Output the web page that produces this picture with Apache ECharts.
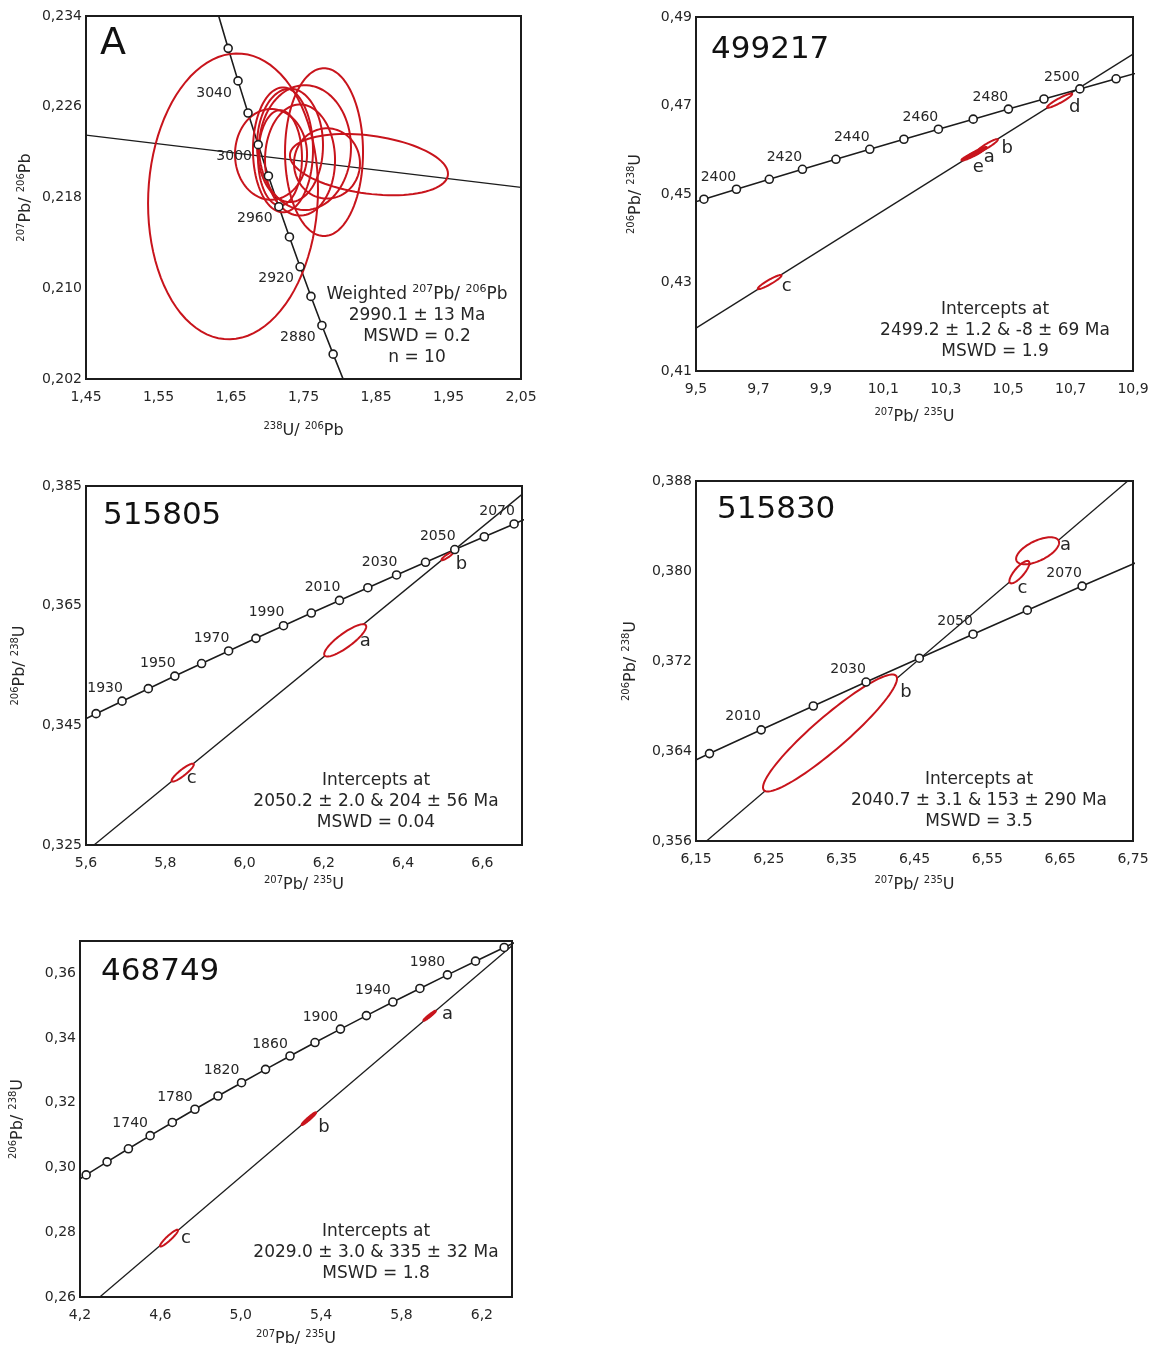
<!DOCTYPE html>
<html>
<head>
<meta charset="utf-8">
<script src="https://cdn.jsdelivr.net/npm/echarts@6.0.0/dist/echarts.min.js"></script>
<style>
  html, body { margin: 0; padding: 0; background: #fff; }
  #chart { width: 1156px; height: 1351px; }
</style>
</head>
<body>
<div id="chart"></div>
<script>
// ================= DATA =================
// Panel A (Tera-Wasserburg): concordia ages (Ma) and coordinates; first/last entries run off the axes
const aAges  = [3080, 3060, 3040, 3020, 3000, 2980, 2960, 2940, 2920, 2900, 2880, 2860, 2840];
const aConcX = [1.6327, 1.6461, 1.6597, 1.6735, 1.6875, 1.7016, 1.7160, 1.7306, 1.7453, 1.7603, 1.7754, 1.7909, 1.8065];
const aConcY = [0.23406, 0.23115, 0.22828, 0.22545, 0.22266, 0.21990, 0.21719, 0.21452, 0.21189, 0.20928, 0.20672, 0.20419, 0.20170];
const aLabelAges = [3040, 3000, 2960, 2920, 2880];
const aRefX = [1.45, 2.05];
const aRefY = [0.2235, 0.2189];
// ellipses: [centerX, centerY, halfWidthX, halfWidthY, correlation]
const aEllipses = [
  [1.6528, 0.2181, 0.1172, 0.0126, 0.05],
  [1.7783, 0.2220, 0.0538, 0.0074, 0.00],
  [1.8403, 0.2209, 0.1090, 0.0027, -0.30],
  [1.7314, 0.2226, 0.0455, 0.0050, 0.00],
  [1.7052, 0.2218, 0.0497, 0.0040, 0.00],
  [1.7217, 0.2222, 0.0414, 0.0055, 0.00],
  [1.7824, 0.2210, 0.0455, 0.0031, 0.00],
  [1.7452, 0.2213, 0.0483, 0.0049, 0.00],
  [1.7176, 0.2215, 0.0303, 0.0042, 0.00],
  [1.7521, 0.2224, 0.0634, 0.0055, 0.00]
];
const aXTicks = [1.45, 1.55, 1.65, 1.75, 1.85, 1.95, 2.05];
const aYTicks = [0.202, 0.210, 0.218, 0.226, 0.234];

// Panel 499217 (Wetherill)
const bAges  = [2380, 2390, 2400, 2410, 2420, 2430, 2440, 2450, 2460, 2470, 2480, 2490, 2500, 2510, 2520];
const bConcX = [9.4223, 9.5254, 9.6296, 9.7348, 9.8410, 9.9483, 10.0567, 10.1661, 10.2766, 10.3882, 10.5009, 10.6148, 10.7297, 10.8458, 10.9630];
const bConcY = [0.44657, 0.44882, 0.45107, 0.45332, 0.45558, 0.45784, 0.46010, 0.46237, 0.46464, 0.46691, 0.46919, 0.47147, 0.47375, 0.47604, 0.47833];
const bLabelAges = [2400, 2420, 2440, 2460, 2480, 2500];
const bDiscX = [9.5, 10.9];
const bDiscY = [0.4197, 0.4816];
const bNames = ['e', 'a', 'b', 'd', 'c'];
const bEllipses = [
  [10.385, 0.4588, 0.034, 0.0012, 0.95],
  [10.401, 0.4595, 0.030, 0.0011, 0.95],
  [10.433, 0.4609, 0.034, 0.0015, 0.93],
  [10.665, 0.4711, 0.040, 0.0016, 0.93],
  [9.736, 0.4301, 0.038, 0.0016, 0.93]
];
const bFilled = [true, true, false, false, false];
const bXTicks = [9.5, 9.7, 9.9, 10.1, 10.3, 10.5, 10.7, 10.9];
const bYTicks = [0.41, 0.43, 0.45, 0.47, 0.49];

// Panel 515805
const cAges  = [1910, 1920, 1930, 1940, 1950, 1960, 1970, 1980, 1990, 2000, 2010, 2020, 2030, 2040, 2050, 2060, 2070, 2080];
const cConcX = [5.5605, 5.6254, 5.6910, 5.7572, 5.8241, 5.8916, 5.9598, 6.0287, 6.0983, 6.1685, 6.2395, 6.3111, 6.3835, 6.4566, 6.5304, 6.6049, 6.6801, 6.7562];
const cConcY = [0.34486, 0.34695, 0.34904, 0.35113, 0.35323, 0.35533, 0.35743, 0.35954, 0.36165, 0.36377, 0.36588, 0.36800, 0.37013, 0.37225, 0.37438, 0.37652, 0.37866, 0.38080];
const cLabelAges = [1930, 1950, 1970, 1990, 2010, 2030, 2050, 2070];
const cDiscX = [5.6, 6.7];
const cDiscY = [0.3239, 0.3836];
const cNames = ['a', 'b', 'c'];
const cEllipses = [
  [6.254, 0.3592, 0.053, 0.0027, 0.85],
  [6.512, 0.3733, 0.015, 0.0007, 0.90],
  [5.844, 0.3371, 0.028, 0.0015, 0.90]
];
const cFilled = [false, false, false];
const cXTicks = [5.6, 5.8, 6.0, 6.2, 6.4, 6.6];
const cYTicks = [0.325, 0.345, 0.365, 0.385];

// Panel 515830
const dAges  = [1990, 2000, 2010, 2020, 2030, 2040, 2050, 2060, 2070, 2080];
const dConcX = [6.0983, 6.1685, 6.2395, 6.3111, 6.3835, 6.4566, 6.5304, 6.6049, 6.6801, 6.7562];
const dConcY = [0.36165, 0.36377, 0.36588, 0.36800, 0.37013, 0.37225, 0.37438, 0.37652, 0.37866, 0.38080];
const dLabelAges = [2010, 2030, 2050, 2070];
const dDiscX = [6.15, 6.75];
const dDiscY = [0.3552, 0.3884];
const dNames = ['a', 'c', 'b'];
const dEllipses = [
  [6.619, 0.3818, 0.0295, 0.0012, 0.60],
  [6.594, 0.3799, 0.0137, 0.0010, 0.80],
  [6.334, 0.3656, 0.092, 0.0052, 0.93]
];
const dFilled = [false, false, false];
const dXTicks = [6.15, 6.25, 6.35, 6.45, 6.55, 6.65, 6.75];
const dYTicks = [0.356, 0.364, 0.372, 0.380, 0.388];

// Panel 468749
const eAges  = [1660, 1680, 1700, 1720, 1740, 1760, 1780, 1800, 1820, 1840, 1860, 1880, 1900, 1920, 1940, 1960, 1980, 2000, 2020, 2040];
const eConcX = [4.1287, 4.2307, 4.3348, 4.4409, 4.5491, 4.6595, 4.7721, 4.8869, 5.0040, 5.1234, 5.2452, 5.3695, 5.4962, 5.6254, 5.7572, 5.8916, 6.0287, 6.1685, 6.3111, 6.4566];
const eConcY = [0.29370, 0.29772, 0.30176, 0.30580, 0.30986, 0.31393, 0.31801, 0.32211, 0.32621, 0.33034, 0.33447, 0.33862, 0.34278, 0.34695, 0.35113, 0.35533, 0.35954, 0.36377, 0.36800, 0.37225];
const eLabelAges = [1740, 1780, 1820, 1860, 1900, 1940, 1980];
const eDiscX = [4.2, 6.35];
const eDiscY = [0.2548, 0.3685];
const eNames = ['a', 'b', 'c'];
const eEllipses = [
  [5.940, 0.3469, 0.030, 0.0015, 0.97],
  [5.339, 0.3151, 0.035, 0.0019, 0.97],
  [4.643, 0.2782, 0.045, 0.0026, 0.93]
];
const eFilled = [true, true, false];
const eXTicks = [4.2, 4.6, 5.0, 5.4, 5.8, 6.2];
const eYTicks = [0.26, 0.28, 0.30, 0.32, 0.34, 0.36];

// ================= STYLE / LAYOUT =================
const RED = '#c8141c';
const INK = '#1c1c1c';
const TXT = '#262626';
const FONT = "'DejaVu Sans', 'Noto Sans', sans-serif";

const nameRich = {
  n: { fontSize: 16, fontFamily: FONT, color: TXT, lineHeight: 20 },
  s: { fontSize: 10, fontFamily: FONT, color: TXT, verticalAlign: 'top', lineHeight: 11 }
};
const TW_X = '{s|238}{n|U/ }{s|206}{n|Pb}';
const TW_Y = '{s|207}{n|Pb/ }{s|206}{n|Pb}';
const WE_X = '{s|207}{n|Pb/ }{s|235}{n|U}';
const WE_Y = '{s|206}{n|Pb/ }{s|238}{n|U}';

function zip(xs, ys) { return xs.map((x, i) => [x, ys[i]]); }
function fmt(d) { return v => Number(v).toFixed(d).replace('.', ','); }

const panels = [
  { grid: { left: 86, top: 16, width: 435, height: 363 }, xr: [1.45, 2.05], yr: [0.202, 0.234],
    xt: aXTicks, yt: aYTicks, xd: 2, yd: 3, xName: TW_X, yName: TW_Y, xGap: 42, yGap: 50,
    ages: aAges, cx: aConcX, cy: aConcY, lab: aLabelAges, labOff: [-24, 12],
    lx: aRefX, ly: aRefY, ells: aEllipses, names: null, filled: null, opaque: false, offs: null },
  { grid: { left: 696, top: 17, width: 437, height: 354 }, xr: [9.5, 10.9], yr: [0.41, 0.49],
    xt: bXTicks, yt: bYTicks, xd: 1, yd: 2, xName: WE_X, yName: WE_Y, xGap: 36, yGap: 50,
    ages: bAges, cx: bConcX, cy: bConcY, lab: bLabelAges, labOff: [-18, -12],
    lx: bDiscX, ly: bDiscY, ells: bEllipses, names: bNames, filled: bFilled, opaque: true,
    offs: { e: [6, 12], a: [12, 5], b: [20, 3], d: [15, 7], c: [17, 4] } },
  { grid: { left: 86, top: 486, width: 436, height: 359 }, xr: [5.6, 6.7], yr: [0.325, 0.385],
    xt: cXTicks, yt: cYTicks, xd: 1, yd: 3, xName: WE_X, yName: WE_Y, xGap: 30, yGap: 56,
    ages: cAges, cx: cConcX, cy: cConcY, lab: cLabelAges, labOff: [-17, -13],
    lx: cDiscX, ly: cDiscY, ells: cEllipses, names: cNames, filled: cFilled, opaque: true,
    offs: { a: [20, 1], b: [14, 8], c: [9, 6] } },
  { grid: { left: 696, top: 481, width: 437, height: 360 }, xr: [6.15, 6.75], yr: [0.356, 0.388],
    xt: dXTicks, yt: dYTicks, xd: 2, yd: 3, xName: WE_X, yName: WE_Y, xGap: 34, yGap: 55,
    ages: dAges, cx: dConcX, cy: dConcY, lab: dLabelAges, labOff: [-18, -13],
    lx: dDiscX, ly: dDiscY, ells: dEllipses, names: dNames, filled: dFilled, opaque: true,
    offs: { a: [28, -5], c: [3, 16], b: [76, -41] } },
  { grid: { left: 80, top: 941, width: 432, height: 356 }, xr: [4.2, 6.35], yr: [0.26, 0.37],
    xt: eXTicks, yt: eYTicks, xd: 1, yd: 2, xName: WE_X, yName: WE_Y, xGap: 32, yGap: 52,
    ages: eAges, cx: eConcX, cy: eConcY, lab: eLabelAges, labOff: [-20, -12],
    lx: eDiscX, ly: eDiscY, ells: eEllipses, names: eNames, filled: eFilled, opaque: true,
    offs: { a: [18, -1], b: [15, 9], c: [17, 0] } }
];

const grids = [], xAxes = [], yAxes = [], series = [];

function ellipsePoints(api, e) {
  const [cx, cy, sx, sy, rho] = e;
  const s = Math.sqrt(1 - rho * rho);
  const pts = [];
  for (let k = 0; k <= 90; k++) {
    const t = (k / 90) * Math.PI * 2;
    const x = cx + sx * Math.cos(t);
    const y = cy + sy * (rho * Math.cos(t) + s * Math.sin(t));
    pts.push(api.coord([x, y]));
  }
  return pts;
}

panels.forEach((p, gi) => {
  grids.push(Object.assign({ show: true, borderColor: INK, borderWidth: 2, backgroundColor: 'transparent', containLabel: false }, p.grid));
  xAxes.push({
    gridIndex: gi, type: 'value', min: p.xr[0], max: p.xr[1],
    axisLine: { show: false }, axisTick: { show: false }, splitLine: { show: false },
    axisLabel: { customValues: p.xt, formatter: fmt(p.xd), margin: 11, fontSize: 14, fontFamily: FONT, color: TXT },
    name: p.xName, nameLocation: 'middle', nameGap: p.xGap, nameTextStyle: { rich: nameRich }
  });
  yAxes.push({
    gridIndex: gi, type: 'value', min: p.yr[0], max: p.yr[1],
    axisLine: { show: false }, axisTick: { show: false }, splitLine: { show: false },
    axisLabel: { customValues: p.yt, formatter: fmt(p.yd), margin: 4, fontSize: 14, fontFamily: FONT, color: TXT },
    name: p.yName, nameLocation: 'middle', nameGap: p.yGap, nameTextStyle: { rich: nameRich }
  });

  // reference / discordia line
  series.push({
    type: 'line', xAxisIndex: gi, yAxisIndex: gi, data: zip(p.lx, p.ly),
    showSymbol: false, symbol: 'none', clip: true, silent: true, z: 2,
    lineStyle: { color: INK, width: 1.3 }
  });
  // concordia curve
  series.push({
    type: 'line', xAxisIndex: gi, yAxisIndex: gi, data: zip(p.cx, p.cy),
    showSymbol: false, symbol: 'none', clip: true, silent: true, z: 2,
    lineStyle: { color: INK, width: 1.6 }
  });

  const ellData = p.ells.map((e, i) => [e[0], e[1], i]);
  // fill pass
  if (p.opaque) {
    series.push({
      type: 'custom', xAxisIndex: gi, yAxisIndex: gi, coordinateSystem: 'cartesian2d',
      data: ellData, silent: true, z: 3, clip: true,
      renderItem: (params, api) => {
        const i = api.value(2);
        return { type: 'polygon', shape: { points: ellipsePoints(api, p.ells[i]) },
          style: { fill: p.filled[i] ? RED : '#ffffff', stroke: 'none' } };
      }
    });
  }
  // stroke pass + letters
  series.push({
    type: 'custom', xAxisIndex: gi, yAxisIndex: gi, coordinateSystem: 'cartesian2d',
    data: ellData, silent: true, z: 4, clip: false,
    renderItem: (params, api) => {
      const i = api.value(2);
      const e = p.ells[i];
      const children = [{ type: 'polygon', shape: { points: ellipsePoints(api, e) },
        style: { fill: 'none', stroke: RED, lineWidth: p.filled && p.filled[i] ? 2.4 : 2 } }];
      if (p.names) {
        const name = p.names[i];
        const c = api.coord([e[0], e[1]]);
        const o = p.offs[name];
        children.push({ type: 'text', x: c[0] + o[0], y: c[1] + o[1],
          style: { text: name, fill: TXT, font: '18px ' + FONT, textAlign: 'center', textVerticalAlign: 'middle' } });
      }
      return { type: 'group', children };
    }
  });

  // concordia age circles (only those within the axes)
  const pts = [];
  p.ages.forEach((a, i) => {
    const x = p.cx[i], y = p.cy[i];
    if (x >= p.xr[0] && x <= p.xr[1] && y >= p.yr[0] && y <= p.yr[1]) pts.push([x, y, a]);
  });
  series.push({
    type: 'scatter', xAxisIndex: gi, yAxisIndex: gi, data: pts, z: 5, silent: true,
    symbol: 'circle', symbolSize: 8,
    itemStyle: { color: '#ffffff', borderColor: INK, borderWidth: 1.6, opacity: 1 },
    label: {
      show: true, position: 'inside', offset: p.labOff, color: TXT, fontSize: 14, fontFamily: FONT,
      formatter: prm => (p.lab.indexOf(prm.value[2]) >= 0 ? String(prm.value[2]) : '')
    }
  });
});

const textRich = {
  n: { fontSize: 17, fontFamily: FONT, color: TXT, lineHeight: 21 },
  s: { fontSize: 11, fontFamily: FONT, color: TXT, verticalAlign: 'top', lineHeight: 21 }
};
function block(x, y, text) {
  return { type: 'text', x, y, z: 10,
    style: { text, textAlign: 'center', textVerticalAlign: 'top', rich: textRich, fill: TXT, font: '17px ' + FONT } };
}
function title(x, y, text, size) {
  return { type: 'text', x, y, z: 10,
    style: { text, fill: '#111', font: size + 'px ' + FONT, textAlign: 'left', textVerticalAlign: 'middle' } };
}

const graphics = [
  title(100, 44, 'A', 38),
  title(711, 50, '499217', 31),
  title(103, 516, '515805', 31),
  title(717, 510, '515830', 31),
  title(101, 972, '468749', 31),
  block(417, 284, '{n|Weighted }{s|207}{n|Pb/ }{s|206}{n|Pb}\n{n|2990.1 ± 13 Ma}\n{n|MSWD = 0.2}\n{n|n = 10}'),
  block(995, 299, '{n|Intercepts at}\n{n|2499.2 ± 1.2 & -8 ± 69 Ma}\n{n|MSWD = 1.9}'),
  block(376, 770, '{n|Intercepts at}\n{n|2050.2 ± 2.0 & 204 ± 56 Ma}\n{n|MSWD = 0.04}'),
  block(979, 769, '{n|Intercepts at}\n{n|2040.7 ± 3.1 & 153 ± 290 Ma}\n{n|MSWD = 3.5}'),
  block(376, 1221, '{n|Intercepts at}\n{n|2029.0 ± 3.0 & 335 ± 32 Ma}\n{n|MSWD = 1.8}')
];

const chart = echarts.init(document.getElementById('chart'), null, { renderer: 'canvas' });
chart.setOption({
  animation: false,
  backgroundColor: '#ffffff',
  grid: grids,
  xAxis: xAxes,
  yAxis: yAxes,
  series: series,
  graphic: graphics
});
</script>
</body>
</html>
